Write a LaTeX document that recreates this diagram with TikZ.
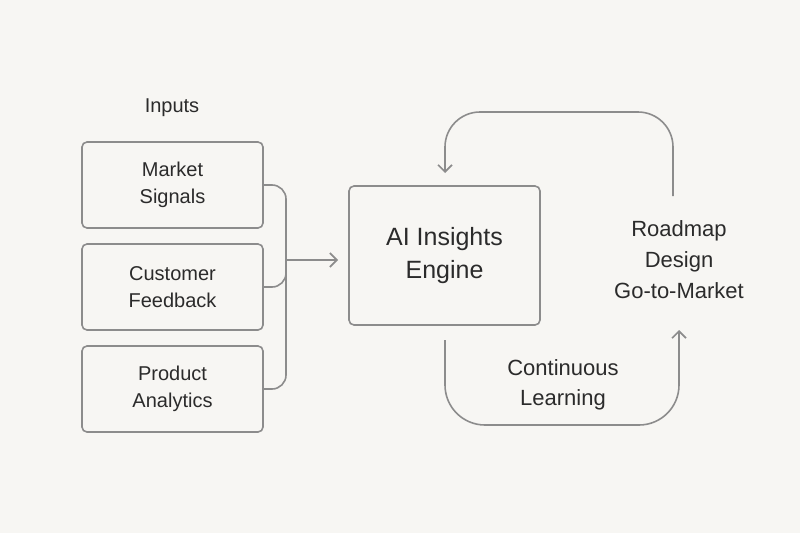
\documentclass[tikz,border=0pt]{standalone}
\usepackage{fontspec}
\setmainfont{Liberation Sans}
\usetikzlibrary{arrows.meta}
\definecolor{bg}{HTML}{F7F6F3}
\definecolor{ln}{HTML}{8C8C8C}
\definecolor{tx}{HTML}{2B2B2B}
\begin{document}
\begin{tikzpicture}[x=1pt,y=-1pt,
  box/.style={draw=ln,line width=1.6pt,rounded corners=5pt,fill=bg,text=tx,align=center,font=\fontsize{20}{27}\selectfont},
  conn/.style={draw=ln,line width=1.6pt,rounded corners=14pt},
  arr/.style={conn,-{Straight Barb[length=7pt,width=14pt]}},
  lbl/.style={text=tx,align=center}]
\fill[bg] (0,0) rectangle (800,533);
\useasboundingbox (0,0) rectangle (800,533);
\node[lbl,font=\fontsize{20}{25}\selectfont] (inputs) at (172,108) {Inputs};
\node[box,minimum width=181pt,minimum height=86pt] (ms) at (172.5,185) {Market\\Signals};
\node[box,minimum width=181pt,minimum height=86pt] (cf) at (172.5,287) {Customer\\Feedback};
\node[box,minimum width=181pt,minimum height=86pt] (pa) at (172.5,389) {Product\\Analytics};
\node[box,minimum width=191pt,minimum height=139pt,font=\fontsize{25}{33}\selectfont] (eng) at (444.5,255.5) {AI Insights\\Engine};
\coordinate (j) at (286,260);
\draw[conn] (ms.east) -| (j);
\draw[conn] (pa.east) -| (j);
\draw[conn] (cf.east) -| (j);
\draw[arr,rounded corners=0pt] (j) -- (338,260);
\node[lbl,font=\fontsize{22}{31}\selectfont] (rd) at (679,260) {Roadmap\\Design\\Go-to-Market};
\node[lbl,font=\fontsize{22}{30}\selectfont] (cl) at (563,385) {Continuous\\Learning};
\coordinate (b0) at (445,340);
\coordinate (b1) at (679,330);
\draw[arr,rounded corners=40pt] (b0) -- (445,425) -- (679,425) -- (b1);
\coordinate (t0) at (673,196);
\coordinate (t1) at (445,173);
\draw[arr,rounded corners=35pt] (t0) -- (673,112) -- (445,112) -- (t1);
\end{tikzpicture}
\end{document}
